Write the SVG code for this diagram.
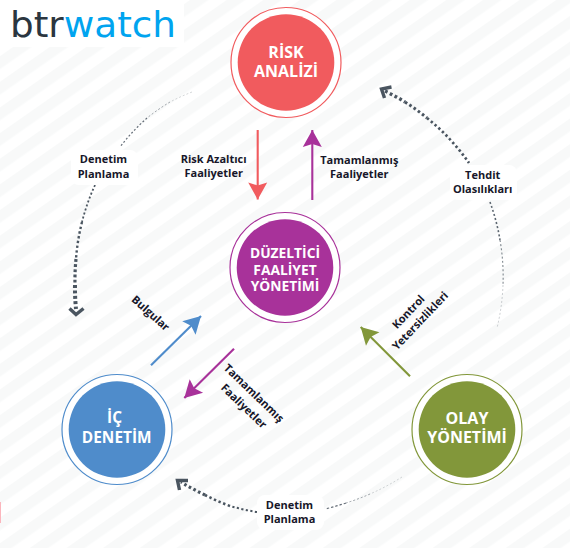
<svg xmlns="http://www.w3.org/2000/svg" width="570" height="548" viewBox="0 0 570 548">
<style>
text{font-family:"Open Sans","Noto Sans","Liberation Sans",sans-serif;font-weight:700;text-anchor:middle}
.n{fill:#fff;font-size:16px}
.s{font-size:13.8px}
.m{font-size:15.4px}
.l{fill:#17172a;font-size:11px}
.ring{fill:#fff;stroke-width:1.2}
.a{fill:none;stroke-width:2.1}
.d{fill:none;stroke:#4a5560}
.h{fill:none;stroke:#4a5560;stroke-width:3.4}
</style>
<defs>
<pattern id="st" width="40" height="21" patternUnits="userSpaceOnUse" patternTransform="rotate(-35) translate(0 4)">
<rect width="40" height="21" fill="#fff"/><rect width="40" height="10.5" fill="#f8f9f9"/>
</pattern>
<marker id="mr" markerUnits="userSpaceOnUse" markerWidth="19" markerHeight="20" viewBox="-1 -10 19 20" refX="17" refY="0" orient="auto"><path d="M0,-9.5L17,0L0,9.5L3,0z" fill="#f15b5e"/></marker>
<marker id="mp" markerUnits="userSpaceOnUse" markerWidth="19" markerHeight="20" viewBox="-1 -10 19 20" refX="17" refY="0" orient="auto"><path d="M0,-9.5L17,0L0,9.5L3,0z" fill="#a8329a"/></marker>
<marker id="mb" markerUnits="userSpaceOnUse" markerWidth="19" markerHeight="20" viewBox="-1 -10 19 20" refX="17" refY="0" orient="auto"><path d="M0,-9.5L17,0L0,9.5L3,0z" fill="#4f8ccb"/></marker>
<marker id="mg" markerUnits="userSpaceOnUse" markerWidth="19" markerHeight="20" viewBox="-1 -10 19 20" refX="17" refY="0" orient="auto"><path d="M0,-9.5L17,0L0,9.5L3,0z" fill="#82973a"/></marker>
</defs>
<rect width="570" height="548" fill="url(#st)"/>
<rect x="0" y="502" width="1" height="21" fill="#fbb6bd"/>
<g id="logo">
<rect width="184" height="47" fill="#fff"/>
<text x="10" y="37" style="text-anchor:start;font-family:'DejaVu Sans',sans-serif;font-weight:400;font-size:35px" textLength="166" lengthAdjust="spacingAndGlyphs"><tspan fill="#2b3640">btr</tspan><tspan fill="#00a4ef">watch</tspan></text>
</g>
<g id="connectors">
<path class="d" stroke-width=".7" stroke-dasharray="2 2" opacity=".35" d="M192,92A212,212 0 0 0 170,102"/>
<path class="d" stroke-width=".9" stroke-dasharray="2 2" opacity=".6" d="M170,102A212,212 0 0 0 147,118"/>
<path class="d" stroke-width="1.2" stroke-dasharray="2 2" opacity=".85" d="M147,118A212,212 0 0 0 120,147"/>
<path class="d" stroke-width="1.8" stroke-dasharray="2 2.2" d="M95,185A214,214 0 0 0 82,222"/>
<path class="d" stroke-width="2.4" stroke-dasharray="2.4 2.4" d="M82,222A214,214 0 0 0 76,259"/>
<path class="d" stroke-width="3.2" stroke-dasharray="2.8 2.4" d="M76,259A214,214 0 0 0 75,285"/>
<path class="d" stroke-width="4" stroke-dasharray="3 2.4" d="M75,285A214,214 0 0 0 76,309"/>
<polyline class="h" points="69.5,308.5 76,314.5 83.5,308.5"/>
<path class="d" stroke-width="3.4" stroke-dasharray="2.8 2.6" d="M385,91A212,212 0 0 1 405,102"/>
<path class="d" stroke-width="3" stroke-dasharray="2.6 2.6" d="M405,102A212,212 0 0 1 427,118"/>
<path class="d" stroke-width="2.7" stroke-dasharray="2.4 2.6" d="M427,118A212,212 0 0 1 469,163"/>
<polyline class="h" points="391.5,87 381.5,89 384.5,98"/>
<path class="d" stroke-width="1.6" stroke-dasharray="2 2.2" opacity=".9" d="M490,202A214,214 0 0 1 500,240"/>
<path class="d" stroke-width="1.1" stroke-dasharray="2 2.2" opacity=".7" d="M500,240A214,214 0 0 1 503,285"/>
<path class="d" stroke-width=".7" stroke-dasharray="2 2" opacity=".4" d="M503,285A214,214 0 0 1 497,328"/>
<path class="d" stroke-width=".7" stroke-dasharray="2 2" opacity=".35" d="M402,477A233,233 0 0 1 370,494"/>
<path class="d" stroke-width=".9" stroke-dasharray="2 2" opacity=".6" d="M370,494A233,233 0 0 1 346,503"/>
<path class="d" stroke-width="1.2" stroke-dasharray="2.4 2" opacity=".85" d="M346,503A233,233 0 0 1 325,509"/>
<path class="d" stroke-width="2" stroke-dasharray="2.2 2.4" d="M257,512A233,233 0 0 1 230,506"/>
<path class="d" stroke-width="2.6" stroke-dasharray="2.4 2.6" d="M230,506A233,233 0 0 1 205,495"/>
<path class="d" stroke-width="3.2" stroke-dasharray="2.6 2.6" d="M205,495A233,233 0 0 1 181,482"/>
<polyline class="h" points="188,480.5 177.5,480.5 179.5,490"/>
<path class="a" stroke="#f15b5e" marker-end="url(#mr)" d="M257.7,130V199.5"/>
<path class="a" stroke="#a8329a" marker-end="url(#mp)" d="M312.3,200V130"/>
<path class="a" stroke="#4f8ccb" marker-end="url(#mb)" d="M151,365.3L201,316"/>
<path class="a" stroke="#a8329a" marker-end="url(#mp)" d="M234,348.7L184.3,398"/>
<path class="a" stroke="#82973a" marker-end="url(#mg)" d="M410,376.3L360.7,327"/>
</g>
<g id="node-risk">
<circle class="ring" stroke="#f15b5e" cx="286" cy="62.5" r="55"/>
<circle fill="#f15b5e" cx="286" cy="62.5" r="48.3"/>
<text class="n" x="286" y="58">RİSK</text>
<text class="n" x="286" y="77">ANALİZİ</text>
</g>
<g id="node-duzeltici">
<circle class="ring" stroke="#a8329a" cx="285" cy="267.5" r="55"/>
<circle fill="#a8329a" cx="285" cy="267.5" r="48.3"/>
<text class="n s" x="285" y="258">DÜZELTİCİ</text>
<text class="n s" x="285" y="275">FAALİYET</text>
<text class="n s" x="285" y="291">YÖNETİMİ</text>
</g>
<g id="node-ic">
<circle class="ring" stroke="#4f8ccb" cx="117" cy="429.5" r="55"/>
<circle fill="#4f8ccb" cx="117" cy="429.5" r="48.3"/>
<text class="n m" x="114.5" y="423">İÇ</text>
<text class="n m" x="116.7" y="442.7">DENETİM</text>
</g>
<g id="node-olay">
<circle class="ring" stroke="#82973a" cx="467" cy="429.5" r="55"/>
<circle fill="#82973a" cx="467" cy="429.5" r="48.3"/>
<text class="n" x="467" y="424">OLAY</text>
<text class="n" x="467" y="443">YÖNETİMİ</text>
</g>
<g id="label-denetim-left">
<rect x="71" y="150" width="67" height="35" rx="8" fill="#fff"/>
<text class="l" x="103.5" y="163.3">Denetim</text>
<text class="l" x="103.5" y="177.7">Planlama</text>
</g>
<g id="label-tehdit">
<rect x="450" y="165" width="67" height="35" rx="8" fill="#fff"/>
<text class="l" x="482.7" y="179">Tehdit</text>
<text class="l" x="482.7" y="192.7">Olasılıkları</text>
</g>
<g id="label-denetim-bottom">
<rect x="257" y="495" width="67" height="35" rx="8" fill="#fff"/>
<text class="l" x="289.5" y="509">Denetim</text>
<text class="l" x="289.5" y="523.3">Planlama</text>
</g>
<g id="labels">
<text class="l" x="213.7" y="163">Risk Azaltıcı</text>
<text class="l" x="213.7" y="176.7">Faaliyetler</text>
<text class="l" x="359.3" y="164">Tamamlanmış</text>
<text class="l" x="359.3" y="177.7">Faaliyetler</text>
<text class="l" y="4" transform="translate(150.7 313) rotate(42)">Bulgular</text>
<text class="l" y="4" transform="translate(254 393) rotate(44)">Tamamlanmış</text>
<text class="l" y="4" transform="translate(244 406) rotate(44)">Faaliyetler</text>
<text class="l" y="4" transform="translate(408.3 311.7) rotate(-46.5)">Kontrol</text>
<text class="l" y="4" transform="translate(420 320.7) rotate(-46.5)">Yetersizlikleri</text>
</g>
</svg>
